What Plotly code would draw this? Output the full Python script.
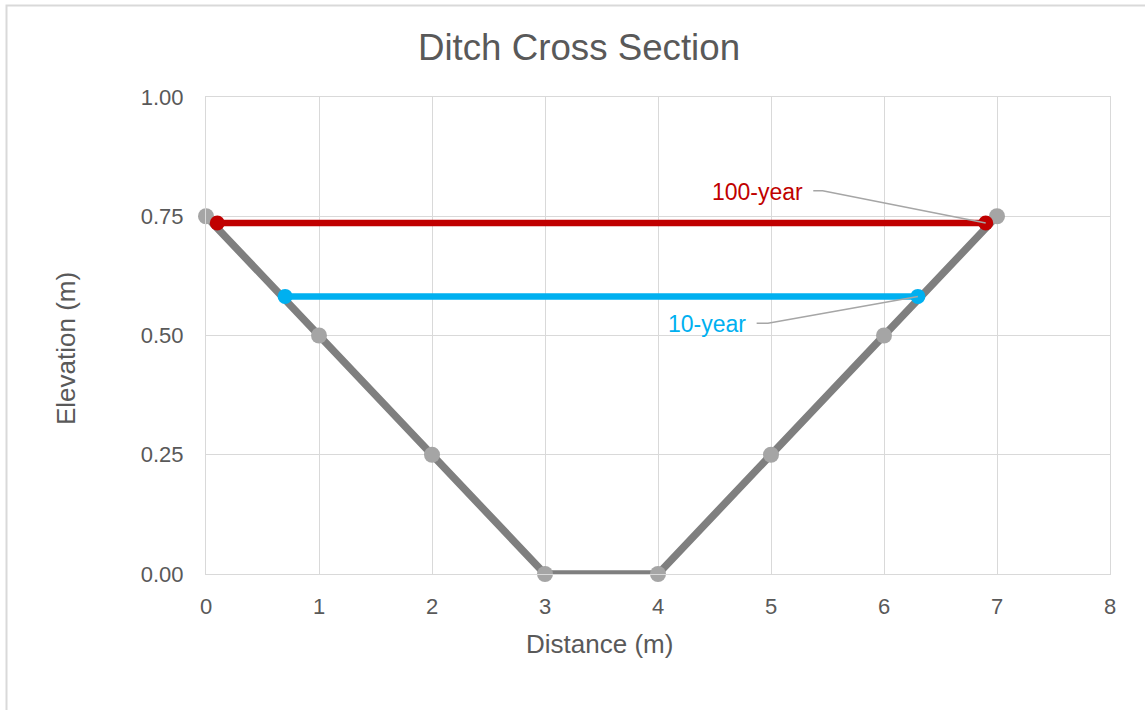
import plotly.graph_objects as go

# Data
ditch_x = [0, 1, 2, 3, 4, 5, 6, 7]
ditch_y = [0.75, 0.50, 0.25, 0.00, 0.00, 0.25, 0.50, 0.75]

y10_x = [0.70, 6.30]
y10_y = [0.582, 0.582]

y100_x = [0.10, 6.90]
y100_y = [0.736, 0.736]

x_ticks = [0, 1, 2, 3, 4, 5, 6, 7, 8]
y_ticks = [0.00, 0.25, 0.50, 0.75, 1.00]

FONT = "Liberation Sans, Arial, sans-serif"
TXT = "#595959"
GRID = "#D9D9D9"
RED = "#C00000"
BLUE = "#00B0F0"
LEADER = "#A6A6A6"

W, H = 1145, 710
L, T, R, B = 206, 97, 35, 136
PW = W - L - R
PH = H - T - B

fig = go.Figure()

fig.add_trace(go.Scatter(
    x=ditch_x, y=ditch_y, mode="lines+markers",
    line=dict(color="#7F7F7F", width=7.5),
    marker=dict(color="#A5A5A5", size=16),
    cliponaxis=False, name="Ditch"))

fig.add_trace(go.Scatter(
    x=y10_x, y=y10_y, mode="lines+markers",
    line=dict(color=BLUE, width=6.5),
    marker=dict(color=BLUE, size=15),
    cliponaxis=False, name="10-year"))

fig.add_trace(go.Scatter(
    x=y100_x, y=y100_y, mode="lines+markers",
    line=dict(color=RED, width=6.5),
    marker=dict(color=RED, size=15),
    cliponaxis=False, name="100-year"))

# label positions (layout) and leader lines to the right-hand end of each flood line
labels = [
    dict(text="100-year", color=RED, tx=4.880, ty=0.800, lx=5.374, sx=5.457, ly=0.8036,
         px=y100_x[-1], py=y100_y[-1]),
    dict(text="10-year", color=BLUE, tx=4.438, ty=0.524, lx=4.873, sx=4.973, ly=0.5256,
         px=y10_x[-1], py=y10_y[-1]),
]
for lb in labels:
    fig.add_trace(go.Scatter(
        x=[lb["lx"], lb["sx"], lb["px"]], y=[lb["ly"], lb["ly"], lb["py"]],
        mode="lines", line=dict(color=LEADER, width=1.5),
        hoverinfo="skip", showlegend=False, cliponaxis=False))
    fig.add_annotation(x=lb["tx"], y=lb["ty"], xref="x", yref="y", text=lb["text"],
                       showarrow=False, font=dict(family=FONT, size=23, color=lb["color"]),
                       xanchor="center", yanchor="middle")

def px_x(p):
    return (p - L) / PW

def px_y(p):
    return (574 - p) / PH

fig.update_layout(
    width=W, height=H,
    margin=dict(l=L, r=R, t=T, b=B),
    paper_bgcolor="white", plot_bgcolor="white",
    showlegend=False,
    font=dict(family=FONT, color=TXT),
    title=dict(text="Ditch Cross Section", x=px_x(579), xref="paper", xanchor="center",
               y=1 - 47 / H, yanchor="middle",
               font=dict(family=FONT, size=36.7, color=TXT)),
)

fig.update_xaxes(range=[0, 8], tickvals=x_ticks, ticktext=[str(v) for v in x_ticks],
                 showgrid=True, gridcolor=GRID, gridwidth=1.2, zeroline=False,
                 showline=True, linecolor=GRID, linewidth=1.2, mirror=True, ticks="",
                 tickfont=dict(family=FONT, size=22, color=TXT), ticklabelstandoff=12)
fig.update_yaxes(range=[0, 1], tickvals=y_ticks, ticktext=[f"{v:.2f}" for v in y_ticks],
                 showgrid=True, gridcolor=GRID, gridwidth=1.2, zeroline=False,
                 showline=True, linecolor=GRID, linewidth=1.2, mirror=True, ticks="",
                 tickfont=dict(family=FONT, size=22, color=TXT), ticklabelstandoff=17)

fig.add_annotation(text="Distance (m)", x=px_x(599), y=px_y(644), xref="paper", yref="paper",
                   showarrow=False, xanchor="center", yanchor="middle",
                   font=dict(family=FONT, size=26, color=TXT))
fig.add_annotation(text="Elevation (m)", x=px_x(66), y=px_y(349), xref="paper", yref="paper",
                   showarrow=False, xanchor="center", yanchor="middle", textangle=-90,
                   font=dict(family=FONT, size=26, color=TXT))

# chart border
fig.add_shape(type="rect", xref="paper", yref="paper",
              x0=px_x(6.5), x1=px_x(1160),
              y0=px_y(725), y1=px_y(5.5),
              line=dict(color=GRID, width=2), fillcolor="rgba(0,0,0,0)", layer="below")

fig.write_html("out.html",
               config={"displayModeBar": False},
               post_script="document.body.style.margin='0';document.body.style.overflow='hidden';")
